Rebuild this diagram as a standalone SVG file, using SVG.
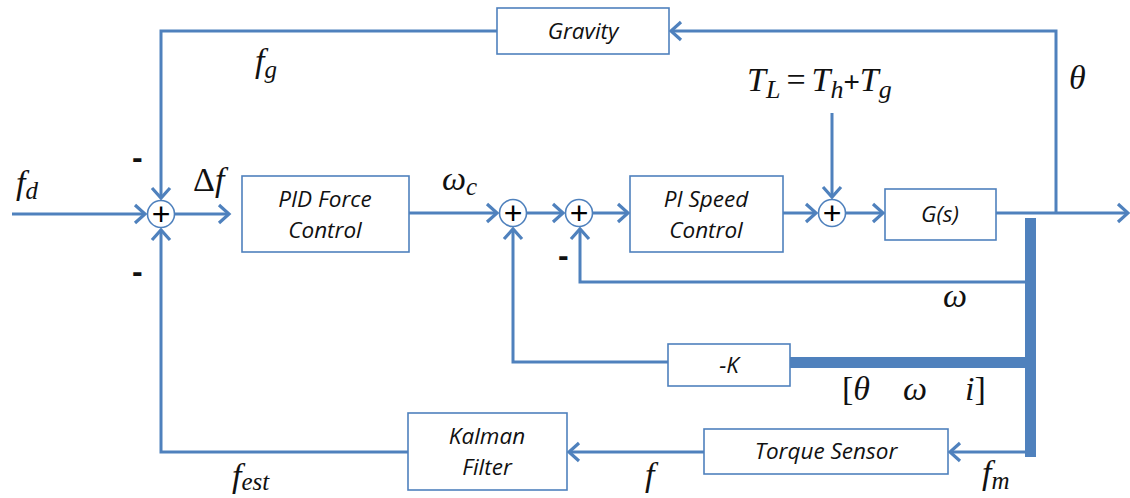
<svg xmlns="http://www.w3.org/2000/svg" width="1130" height="498" viewBox="0 0 1130 498">
<style>
.ln{fill:none;stroke:#4F81BD;stroke-width:3;stroke-linejoin:miter}
.th{fill:none;stroke:#4F81BD;stroke-width:11}
.bx{fill:#fff;stroke:#4F81BD;stroke-width:1.6}
.sm{fill:#fff;stroke:#4F81BD;stroke-width:1.6}
.bt{font-family:"Open Sans","Liberation Sans",sans-serif;font-style:italic;font-size:22.5px;fill:#111;text-anchor:middle}
.pl{font-family:"Liberation Sans",sans-serif;font-size:32px;fill:#000;text-anchor:middle}
.mt{font-family:"Liberation Serif","DejaVu Serif",serif;font-style:italic;font-size:34px;fill:#111}
.mn{font-family:"Liberation Sans",sans-serif;font-size:32px;font-weight:bold;fill:#111}
</style>
<defs>
<marker id="ar" markerWidth="16" markerHeight="24" refX="12" refY="11" orient="auto" markerUnits="userSpaceOnUse">
<path d="M2,2 L12,11 L2,20" fill="none" stroke="#4F81BD" stroke-width="3.2"/>
</marker>
</defs>
<g id="connectors">
<path class="ln" d="M12,214 L145,214" marker-end="url(#ar)"/>
<path class="ln" d="M175,214 L229,214" marker-end="url(#ar)"/>
<path class="ln" d="M497,31 L161,31 L161,198" marker-end="url(#ar)"/>
<path class="ln" d="M1056,212 L1056,31 L671,31" marker-end="url(#ar)"/>
<path class="ln" d="M409,213 L497,213" marker-end="url(#ar)"/>
<path class="ln" d="M527,213 L563,213" marker-end="url(#ar)"/>
<path class="ln" d="M593,213 L628,213" marker-end="url(#ar)"/>
<path class="ln" d="M783,213 L816,213" marker-end="url(#ar)"/>
<path class="ln" d="M832,113 L832,197" marker-end="url(#ar)"/>
<path class="ln" d="M846,213 L883,213" marker-end="url(#ar)"/>
<path class="ln" d="M996,213 L1128,213" marker-end="url(#ar)"/>
<path class="th" d="M1030.5,218 L1030.5,457"/>
<path class="ln" d="M1025,282 L580,282 L580,229" marker-end="url(#ar)"/>
<path class="th" d="M790,362.5 L1026,362.5"/>
<path class="ln" d="M668,362 L513,362 L513,229" marker-end="url(#ar)"/>
<path class="ln" d="M1026,452 L950,452" marker-end="url(#ar)"/>
<path class="ln" d="M704,452 L569,452" marker-end="url(#ar)"/>
<path class="ln" d="M408,452 L161,452 L161,230" marker-end="url(#ar)"/>
</g>
<g id="sum1"><circle class="sm" cx="161" cy="214" r="13.5"/><text class="pl" x="161" y="225">+</text></g>
<g id="sum2"><circle class="sm" cx="513" cy="213" r="13.5"/><text class="pl" x="513" y="224">+</text></g>
<g id="sum3"><circle class="sm" cx="579" cy="213" r="13.5"/><text class="pl" x="579" y="224">+</text></g>
<g id="sum4"><circle class="sm" cx="832" cy="213" r="13.5"/><text class="pl" x="832" y="224">+</text></g>
<g id="gravity"><rect class="bx" x="497" y="8" width="172" height="46"/><text class="bt" x="583" y="39">Gravity</text></g>
<g id="pid"><rect class="bx" x="242" y="176" width="167" height="76"/><text class="bt" x="325" y="207">PID Force</text><text class="bt" x="325" y="238">Control</text></g>
<g id="pi"><rect class="bx" x="630" y="176" width="153" height="76"/><text class="bt" x="706" y="207">PI Speed</text><text class="bt" x="706" y="238">Control</text></g>
<g id="gs"><rect class="bx" x="885" y="189" width="111" height="51"/><text class="bt" x="940" y="222">G(s)</text></g>
<g id="negk"><rect class="bx" x="668" y="344" width="122" height="42"/><text class="bt" x="729" y="373">-K</text></g>
<g id="torque"><rect class="bx" x="704" y="429" width="244" height="45"/><text class="bt" x="826" y="459">Torque Sensor</text></g>
<g id="kalman"><rect class="bx" x="408" y="413" width="159" height="77"/><text class="bt" x="487" y="444">Kalman</text><text class="bt" x="487" y="475">Filter</text></g>
<g id="labels">
<text class="mt" x="16" y="194">f<tspan font-size="25" dy="5">d</tspan></text>
<text class="mt" x="255" y="72">f<tspan font-size="25" dy="6">g</tspan></text>
<text class="mt" x="193" y="191"><tspan font-style="normal">Δ</tspan>f</text>
<text class="mt" x="442" y="190">ω<tspan font-size="25" dy="5">c</tspan></text>
<text class="mt" x="747" y="91" font-size="36">T<tspan font-size="26" dy="7">L</tspan><tspan dy="-7" dx="6" font-style="normal">=</tspan><tspan dx="6">T</tspan><tspan font-size="26" dy="7">h</tspan><tspan dy="-7" font-style="normal" font-family="Liberation Sans" font-size="28">+</tspan>T<tspan font-size="26" dy="7">g</tspan></text>
<text class="mt" x="1069" y="89">θ</text>
<text class="mt" x="943" y="307">ω</text>
<text class="mt" x="842" y="400"><tspan font-style="normal">[</tspan>θ<tspan dx="33">ω</tspan><tspan dx="38">i</tspan><tspan font-style="normal">]</tspan></text>
<text class="mt" x="232" y="487">f<tspan font-size="25" dy="3">est</tspan></text>
<text class="mt" x="645" y="486">f</text>
<text class="mt" x="982" y="484">f<tspan font-size="25" dy="5">m</tspan></text>
<text class="mn" x="132" y="168">-</text>
<text class="mn" x="132" y="282">-</text>
<text class="mn" x="558" y="266">-</text>
</g>
</svg>
